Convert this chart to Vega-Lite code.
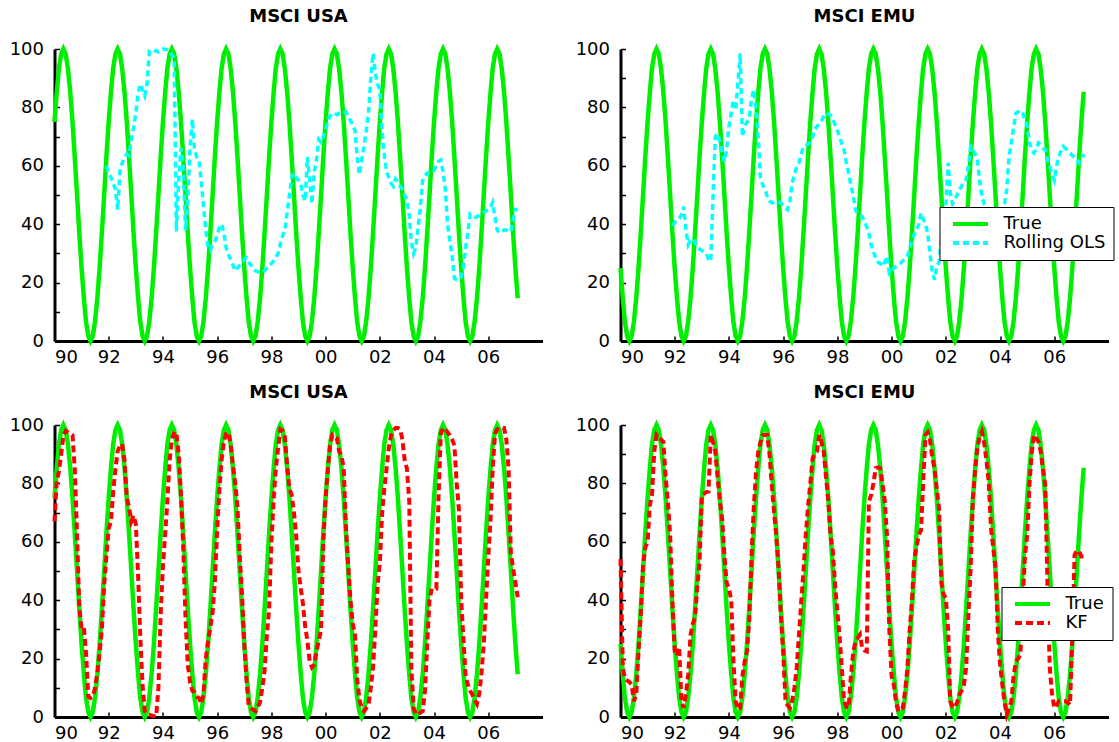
{
"$schema":"https://vega.github.io/schema/vega-lite/v6.json",
"padding":{"left":8.5,"top":8,"right":2,"bottom":2},
"bounds":"flush",
"columns":2,
"spacing":{"row":84,"column":78},
"config":{
 "font":"DejaVu Sans",
 "view":{"stroke":null},
 "axis":{"domainColor":"black","domainWidth":3,"tickColor":"black","tickWidth":1.5,"tickSize":-5,"labelColor":"black","labelFontSize":18,"labelFont":"DejaVu Sans","grid":false,"labelOverlap":false},
 "axisX":{"labelPadding":12},
 "axisY":{"labelPadding":16},
 "title":{"fontSize":18,"fontWeight":"bold","font":"DejaVu Sans","color":"black","offset":14},
 "line":{"strokeCap":"butt"},
 "legend":{"title":null,"orient":"none","symbolType":"M-1,0H9","symbolSize":49,"symbolStrokeWidth":4,"padding":8,"strokeColor":"black","fillColor":"white","labelFontSize":18,"labelFont":"DejaVu Sans","labelColor":"black","rowPadding":1,"labelOffset":38,"cornerRadius":0}
},
"resolve":{"scale":{"color":"independent","strokeDash":"independent"},"legend":{"color":"independent","strokeDash":"independent"}},
"data":{"values":[
{"d":"1990-01","tu":75,"te":25,"ku":67,"ke":54},
{"d":"1990-02","tu":85.36,"te":14.64,"ku":81,"ke":17},
{"d":"1990-03","tu":93.3,"te":6.7,"ku":84,"ke":13.3},
{"d":"1990-04","tu":98.3,"te":1.7,"ku":90,"ke":12.5},
{"d":"1990-05","tu":100,"te":0,"ku":96.5,"ke":12},
{"d":"1990-06","tu":98.3,"te":1.7,"ku":98,"ke":11},
{"d":"1990-07","tu":93.3,"te":6.7,"ku":97.5,"ke":5.4},
{"d":"1990-08","tu":85.36,"te":14.64,"ku":97,"ke":7.6},
{"d":"1990-09","tu":75,"te":25,"ku":96.5,"ke":22.5},
{"d":"1990-10","tu":62.94,"te":37.06,"ku":85,"ke":35},
{"d":"1990-11","tu":50,"te":50,"ku":62,"ke":52},
{"d":"1990-12","tu":37.06,"te":62.94,"ku":38,"ke":58},
{"d":"1991-01","tu":25,"te":75,"ku":30,"ke":60},
{"d":"1991-02","tu":14.64,"te":85.36,"ku":30.5,"ke":72.6},
{"d":"1991-03","tu":6.7,"te":93.3,"ku":22,"ke":76},
{"d":"1991-04","tu":1.7,"te":98.3,"ku":7,"ke":91},
{"d":"1991-05","tu":0,"te":100,"ku":6.5,"ke":96.6},
{"d":"1991-06","tu":1.7,"te":98.3,"ku":7,"ke":95.5},
{"d":"1991-07","tu":6.7,"te":93.3,"ku":10,"ke":95},
{"d":"1991-08","tu":14.64,"te":85.36,"ku":15,"ke":94.3},
{"d":"1991-09","tu":25,"te":75,"ku":22,"ke":82},
{"d":"1991-10","tu":37.06,"te":62.94,"ku":30,"ke":73.8},
{"d":"1991-11","tu":50,"te":50,"ku":45,"ke":62.4},
{"d":"1991-12","tu":62.94,"te":37.06,"ou":60,"oe":39.5,"ku":55,"ke":39.6},
{"d":"1992-01","tu":75,"te":25,"ou":57.5,"oe":40.5,"ku":64.5,"ke":22.5},
{"d":"1992-02","tu":85.36,"te":14.64,"ou":56,"oe":41.5,"ku":67,"ke":21},
{"d":"1992-03","tu":93.3,"te":6.7,"ou":54,"oe":42,"ku":77,"ke":24},
{"d":"1992-04","tu":98.3,"te":1.7,"ou":52,"oe":43,"ku":85,"ke":5.4},
{"d":"1992-05","tu":100,"te":0,"ou":45,"oe":46,"ku":91,"ke":3.1},
{"d":"1992-06","tu":98.3,"te":1.7,"ou":58,"oe":38,"ku":93,"ke":8},
{"d":"1992-07","tu":93.3,"te":6.7,"ou":61,"oe":33,"ku":93.5,"ke":14.5},
{"d":"1992-08","tu":85.36,"te":14.64,"ou":63,"oe":34.5,"ku":88,"ke":28},
{"d":"1992-09","tu":75,"te":25,"ou":64,"oe":35,"ku":75,"ke":32},
{"d":"1992-10","tu":62.94,"te":37.06,"ou":63.5,"oe":34,"ku":72,"ke":34},
{"d":"1992-11","tu":50,"te":50,"ou":69,"oe":32,"ku":67,"ke":45},
{"d":"1992-12","tu":37.06,"te":62.94,"ou":73,"oe":31.5,"ku":69,"ke":53},
{"d":"1993-01","tu":25,"te":75,"ou":78,"oe":31,"ku":66,"ke":76},
{"d":"1993-02","tu":14.64,"te":85.36,"ou":85,"oe":30.5,"ku":48,"ke":76.5},
{"d":"1993-03","tu":6.7,"te":93.3,"ou":88,"oe":30,"ku":28,"ke":77},
{"d":"1993-04","tu":1.7,"te":98.3,"ou":86,"oe":28,"ku":11,"ke":77.2},
{"d":"1993-05","tu":0,"te":100,"ou":84,"oe":27.3,"ku":2,"ke":96.6},
{"d":"1993-06","tu":1.7,"te":98.3,"ou":88,"oe":50,"ku":1,"ke":94},
{"d":"1993-07","tu":6.7,"te":93.3,"ou":99,"oe":70,"ku":0.8,"ke":91},
{"d":"1993-08","tu":14.64,"te":85.36,"ou":98.5,"oe":71,"ku":0.5,"ke":82},
{"d":"1993-09","tu":25,"te":75,"ou":99,"oe":68,"ku":0.3,"ke":74},
{"d":"1993-10","tu":37.06,"te":62.94,"ou":99.5,"oe":64.5,"ku":0.2,"ke":68},
{"d":"1993-11","tu":50,"te":50,"ou":99,"oe":61.5,"ku":10,"ke":55},
{"d":"1993-12","tu":62.94,"te":37.06,"ou":99.5,"oe":65.5,"ku":35,"ke":46},
{"d":"1994-01","tu":75,"te":25,"ou":100,"oe":73.5,"ku":52,"ke":44},
{"d":"1994-02","tu":85.36,"te":14.64,"ou":99.8,"oe":78,"ku":63,"ke":40},
{"d":"1994-03","tu":93.3,"te":6.7,"ou":99.8,"oe":82.5,"ku":74,"ke":20},
{"d":"1994-04","tu":98.3,"te":1.7,"ou":99.5,"oe":79,"ku":88,"ke":5.4},
{"d":"1994-05","tu":100,"te":0,"ou":98,"oe":88,"ku":95,"ke":2.5},
{"d":"1994-06","tu":98.3,"te":1.7,"ou":97,"oe":98.5,"ku":97.7,"ke":3.1},
{"d":"1994-07","tu":93.3,"te":6.7,"ou":37.5,"oe":70,"ku":97,"ke":14},
{"d":"1994-08","tu":85.36,"te":14.64,"ou":55,"oe":73.5,"ku":90,"ke":19},
{"d":"1994-09","tu":75,"te":25,"ou":66,"oe":75,"ku":76,"ke":22.5},
{"d":"1994-10","tu":62.94,"te":37.06,"ou":60,"oe":76,"ku":58,"ke":33},
{"d":"1994-11","tu":50,"te":50,"ou":38,"oe":83,"ku":34,"ke":55},
{"d":"1994-12","tu":37.06,"te":62.94,"ou":48,"oe":86,"ku":18,"ke":71.5},
{"d":"1995-01","tu":25,"te":75,"ou":66,"oe":80,"ku":12,"ke":84},
{"d":"1995-02","tu":14.64,"te":85.36,"ou":76,"oe":69,"ku":9,"ke":91},
{"d":"1995-03","tu":6.7,"te":93.3,"ou":66,"oe":56,"ku":8.5,"ke":94},
{"d":"1995-04","tu":1.7,"te":98.3,"ou":63,"oe":53.5,"ku":7,"ke":96.6},
{"d":"1995-05","tu":0,"te":100,"ou":62,"oe":52,"ku":6.5,"ke":96.6},
{"d":"1995-06","tu":1.7,"te":98.3,"ou":55,"oe":49.5,"ku":4.5,"ke":96.6},
{"d":"1995-07","tu":6.7,"te":93.3,"ou":46,"oe":48,"ku":8,"ke":90},
{"d":"1995-08","tu":14.64,"te":85.36,"ou":38,"oe":47.3,"ku":20,"ke":79.5},
{"d":"1995-09","tu":25,"te":75,"ou":32,"oe":47.5,"ku":26,"ke":70},
{"d":"1995-10","tu":37.06,"te":62.94,"ou":31,"oe":47.8,"ku":30.5,"ke":62},
{"d":"1995-11","tu":50,"te":50,"ou":33,"oe":47.5,"ku":36,"ke":51},
{"d":"1995-12","tu":62.94,"te":37.06,"ou":34,"oe":47.3,"ku":46,"ke":35},
{"d":"1996-01","tu":75,"te":25,"ou":36,"oe":46.5,"ku":64,"ke":22.5},
{"d":"1996-02","tu":85.36,"te":14.64,"ou":39,"oe":45.5,"ku":78,"ke":6},
{"d":"1996-03","tu":93.3,"te":6.7,"ou":40,"oe":45,"ku":88,"ke":4},
{"d":"1996-04","tu":98.3,"te":1.7,"ou":37,"oe":48,"ku":94.3,"ke":3.1},
{"d":"1996-05","tu":100,"te":0,"ou":32,"oe":54,"ku":97,"ke":5.4},
{"d":"1996-06","tu":98.3,"te":1.7,"ou":29.5,"oe":57,"ku":97.5,"ke":10},
{"d":"1996-07","tu":93.3,"te":6.7,"ou":28,"oe":59.5,"ku":93.5,"ke":16.8},
{"d":"1996-08","tu":85.36,"te":14.64,"ou":26,"oe":61,"ku":86,"ke":28},
{"d":"1996-09","tu":75,"te":25,"ou":24,"oe":64,"ku":80,"ke":39.6},
{"d":"1996-10","tu":62.94,"te":37.06,"ou":25,"oe":66.6,"ku":72,"ke":50},
{"d":"1996-11","tu":50,"te":50,"ou":26,"oe":67,"ku":55,"ke":62.4},
{"d":"1996-12","tu":37.06,"te":62.94,"ou":26.7,"oe":67.5,"ku":42,"ke":72},
{"d":"1997-01","tu":25,"te":75,"ou":28,"oe":68,"ku":25,"ke":80},
{"d":"1997-02","tu":14.64,"te":85.36,"ou":28.5,"oe":70,"ku":12,"ke":88.6},
{"d":"1997-03","tu":6.7,"te":93.3,"ou":27,"oe":72.4,"ku":4.2,"ke":90},
{"d":"1997-04","tu":1.7,"te":98.3,"ou":26,"oe":73.5,"ku":3,"ke":91},
{"d":"1997-05","tu":0,"te":100,"ou":25,"oe":74.5,"ku":2.5,"ke":96.6},
{"d":"1997-06","tu":1.7,"te":98.3,"ou":24,"oe":75.5,"ku":2,"ke":94},
{"d":"1997-07","tu":6.7,"te":93.3,"ou":23.8,"oe":77,"ku":3.5,"ke":91},
{"d":"1997-08","tu":14.64,"te":85.36,"ou":23.3,"oe":78,"ku":5,"ke":82},
{"d":"1997-09","tu":25,"te":75,"ou":23.5,"oe":77.8,"ku":10,"ke":73.8},
{"d":"1997-10","tu":37.06,"te":62.94,"ou":24.2,"oe":77.3,"ku":16,"ke":62},
{"d":"1997-11","tu":50,"te":50,"ou":24.8,"oe":76,"ku":28,"ke":56.7},
{"d":"1997-12","tu":62.94,"te":37.06,"ou":25.5,"oe":74,"ku":37,"ke":45},
{"d":"1998-01","tu":75,"te":25,"ou":26.5,"oe":72,"ku":60,"ke":36},
{"d":"1998-02","tu":85.36,"te":14.64,"ou":27.5,"oe":70,"ku":75,"ke":27},
{"d":"1998-03","tu":93.3,"te":6.7,"ou":28.5,"oe":67.5,"ku":85,"ke":17},
{"d":"1998-04","tu":98.3,"te":1.7,"ou":30,"oe":65.5,"ku":92,"ke":5.4},
{"d":"1998-05","tu":100,"te":0,"ou":33,"oe":61,"ku":98.5,"ke":3.5},
{"d":"1998-06","tu":98.3,"te":1.7,"ou":36,"oe":57.5,"ku":98,"ke":3.1},
{"d":"1998-07","tu":93.3,"te":6.7,"ou":38,"oe":53.5,"ku":96,"ke":14},
{"d":"1998-08","tu":85.36,"te":14.64,"ou":44,"oe":50,"ku":86,"ke":22},
{"d":"1998-09","tu":75,"te":25,"ou":50,"oe":45,"ku":78,"ke":25.9},
{"d":"1998-10","tu":62.94,"te":37.06,"ou":56,"oe":43.5,"ku":76,"ke":27},
{"d":"1998-11","tu":50,"te":50,"ou":57.5,"oe":43,"ku":70,"ke":28.2},
{"d":"1998-12","tu":37.06,"te":62.94,"ou":56,"oe":42.6,"ku":62,"ke":23.6},
{"d":"1999-01","tu":25,"te":75,"ou":55,"oe":41,"ku":50,"ke":22.8},
{"d":"1999-02","tu":14.64,"te":85.36,"ou":54,"oe":39,"ku":44,"ke":22.5},
{"d":"1999-03","tu":6.7,"te":93.3,"ou":50,"oe":37,"ku":39,"ke":73.8},
{"d":"1999-04","tu":1.7,"te":98.3,"ou":48,"oe":33,"ku":31,"ke":76},
{"d":"1999-05","tu":0,"te":100,"ou":63,"oe":30.5,"ku":26,"ke":80},
{"d":"1999-06","tu":1.7,"te":98.3,"ou":55,"oe":28.5,"ku":19,"ke":85.2},
{"d":"1999-07","tu":6.7,"te":93.3,"ou":47,"oe":27,"ku":17,"ke":85.5},
{"d":"1999-08","tu":14.64,"te":85.36,"ou":58,"oe":26.6,"ku":18,"ke":85.2},
{"d":"1999-09","tu":25,"te":75,"ou":62,"oe":25.5,"ku":22.5,"ke":80},
{"d":"1999-10","tu":37.06,"te":62.94,"ou":69,"oe":27,"ku":26,"ke":73.8},
{"d":"1999-11","tu":50,"te":50,"ou":68,"oe":29,"ku":30,"ke":62},
{"d":"1999-12","tu":62.94,"te":37.06,"ou":70,"oe":23.2,"ku":60,"ke":30},
{"d":"2000-01","tu":75,"te":25,"ou":72,"oe":24,"ku":75,"ke":14},
{"d":"2000-02","tu":85.36,"te":14.64,"ou":75.5,"oe":25,"ku":85,"ke":11},
{"d":"2000-03","tu":93.3,"te":6.7,"ou":77,"oe":25.5,"ku":93,"ke":5},
{"d":"2000-04","tu":98.3,"te":1.7,"ou":78,"oe":26,"ku":96.6,"ke":2},
{"d":"2000-05","tu":100,"te":0,"ou":78,"oe":26.6,"ku":96,"ke":2.5},
{"d":"2000-06","tu":98.3,"te":1.7,"ou":77.5,"oe":27.5,"ku":95.4,"ke":3.1},
{"d":"2000-07","tu":93.3,"te":6.7,"ou":78,"oe":28,"ku":91,"ke":9},
{"d":"2000-08","tu":85.36,"te":14.64,"ou":78,"oe":29,"ku":89.7,"ke":16.8},
{"d":"2000-09","tu":75,"te":25,"ou":78,"oe":31.5,"ku":85,"ke":30},
{"d":"2000-10","tu":62.94,"te":37.06,"ou":78.5,"oe":34.6,"ku":65,"ke":39.6},
{"d":"2000-11","tu":50,"te":50,"ou":77,"oe":36.5,"ku":52,"ke":54},
{"d":"2000-12","tu":37.06,"te":62.94,"ou":75.5,"oe":38,"ku":40,"ke":58},
{"d":"2001-01","tu":25,"te":75,"ou":74,"oe":40,"ku":32,"ke":62.4},
{"d":"2001-02","tu":14.64,"te":85.36,"ou":72,"oe":43.8,"ku":28,"ke":64},
{"d":"2001-03","tu":6.7,"te":93.3,"ou":63,"oe":42,"ku":13,"ke":80},
{"d":"2001-04","tu":1.7,"te":98.3,"ou":57,"oe":40,"ku":6,"ke":96.6},
{"d":"2001-05","tu":0,"te":100,"ou":62,"oe":37,"ku":3,"ke":97.5},
{"d":"2001-06","tu":1.7,"te":98.3,"ou":66.5,"oe":30,"ku":2,"ke":95},
{"d":"2001-07","tu":6.7,"te":93.3,"ou":72,"oe":24,"ku":3,"ke":89},
{"d":"2001-08","tu":14.64,"te":85.36,"ou":78,"oe":21,"ku":4.2,"ke":85.2},
{"d":"2001-09","tu":25,"te":75,"ou":90,"oe":25.5,"ku":10,"ke":78},
{"d":"2001-10","tu":37.06,"te":62.94,"ou":98.5,"oe":27,"ku":17,"ke":71.5},
{"d":"2001-11","tu":50,"te":50,"ou":92,"oe":35,"ku":30,"ke":46},
{"d":"2001-12","tu":62.94,"te":37.06,"ou":88,"oe":42,"ku":45,"ke":42},
{"d":"2002-01","tu":75,"te":25,"ou":86,"oe":46,"ku":53,"ke":40.7},
{"d":"2002-02","tu":85.36,"te":14.64,"ou":72,"oe":61,"ku":70,"ke":30},
{"d":"2002-03","tu":93.3,"te":6.7,"ou":64,"oe":50.6,"ku":78,"ke":5.4},
{"d":"2002-04","tu":98.3,"te":1.7,"ou":58,"oe":47,"ku":85,"ke":3.5},
{"d":"2002-05","tu":100,"te":0,"ou":56,"oe":48.3,"ku":92,"ke":3.1},
{"d":"2002-06","tu":98.3,"te":1.7,"ou":54,"oe":50,"ku":96.5,"ke":5},
{"d":"2002-07","tu":93.3,"te":6.7,"ou":53,"oe":51.8,"ku":98,"ke":7.6},
{"d":"2002-08","tu":85.36,"te":14.64,"ou":55.5,"oe":53,"ku":99,"ke":9},
{"d":"2002-09","tu":75,"te":25,"ou":54.5,"oe":54.5,"ku":99,"ke":11},
{"d":"2002-10","tu":62.94,"te":37.06,"ou":53,"oe":55.2,"ku":98.5,"ke":16.8},
{"d":"2002-11","tu":50,"te":50,"ou":52,"oe":60,"ku":95,"ke":35},
{"d":"2002-12","tu":37.06,"te":62.94,"ou":50,"oe":66.6,"ku":88,"ke":51},
{"d":"2003-01","tu":25,"te":75,"ou":48.5,"oe":65.5,"ku":85,"ke":75},
{"d":"2003-02","tu":14.64,"te":85.36,"ou":43,"oe":64,"ku":74,"ke":85.2},
{"d":"2003-03","tu":6.7,"te":93.3,"ou":34,"oe":62,"ku":17,"ke":92},
{"d":"2003-04","tu":1.7,"te":98.3,"ou":30,"oe":55,"ku":3,"ke":96},
{"d":"2003-05","tu":0,"te":100,"ou":32,"oe":49.5,"ku":1,"ke":97.7},
{"d":"2003-06","tu":1.7,"te":98.3,"ou":39,"oe":47,"ku":0.8,"ke":94},
{"d":"2003-07","tu":6.7,"te":93.3,"ou":46,"oe":46,"ku":1.5,"ke":88},
{"d":"2003-08","tu":14.64,"te":85.36,"ou":55,"oe":45,"ku":2,"ke":80.6},
{"d":"2003-09","tu":25,"te":75,"ou":56.5,"oe":44,"ku":9,"ke":64.6},
{"d":"2003-10","tu":37.06,"te":62.94,"ou":57.5,"oe":43,"ku":25,"ke":58},
{"d":"2003-11","tu":50,"te":50,"ou":57.5,"oe":42,"ku":40,"ke":51},
{"d":"2003-12","tu":62.94,"te":37.06,"ou":57.5,"oe":43,"ku":44,"ke":30},
{"d":"2004-01","tu":75,"te":25,"ou":58.5,"oe":44,"ku":44,"ke":18},
{"d":"2004-02","tu":85.36,"te":14.64,"ou":60,"oe":45.5,"ku":44,"ke":11},
{"d":"2004-03","tu":93.3,"te":6.7,"ou":61.5,"oe":47,"ku":75,"ke":5},
{"d":"2004-04","tu":98.3,"te":1.7,"ou":62,"oe":52,"ku":97,"ke":0.8},
{"d":"2004-05","tu":100,"te":0,"ou":58,"oe":63,"ku":99,"ke":3},
{"d":"2004-06","tu":98.3,"te":1.7,"ou":52,"oe":68,"ku":98.5,"ke":5.4},
{"d":"2004-07","tu":93.3,"te":6.7,"ou":40,"oe":73,"ku":97.5,"ke":14},
{"d":"2004-08","tu":85.36,"te":14.64,"ou":34,"oe":78,"ku":96.5,"ke":19},
{"d":"2004-09","tu":75,"te":25,"ou":29,"oe":78.5,"ku":95,"ke":20},
{"d":"2004-10","tu":62.94,"te":37.06,"ou":21.5,"oe":79,"ku":93,"ke":21.3},
{"d":"2004-11","tu":50,"te":50,"ou":21,"oe":78,"ku":80,"ke":39.6},
{"d":"2004-12","tu":37.06,"te":62.94,"ou":21,"oe":76,"ku":71,"ke":55},
{"d":"2005-01","tu":25,"te":75,"ou":22,"oe":73.5,"ku":40,"ke":62.4},
{"d":"2005-02","tu":14.64,"te":85.36,"ou":25.5,"oe":68,"ku":26,"ke":80},
{"d":"2005-03","tu":6.7,"te":93.3,"ou":32,"oe":65.5,"ku":14,"ke":90},
{"d":"2005-04","tu":1.7,"te":98.3,"ou":37,"oe":64.4,"ku":11,"ke":96.6},
{"d":"2005-05","tu":0,"te":100,"ou":43.5,"oe":65.5,"ku":9,"ke":95.5},
{"d":"2005-06","tu":1.7,"te":98.3,"ou":43,"oe":67.8,"ku":7.6,"ke":94.3},
{"d":"2005-07","tu":6.7,"te":93.3,"ou":42.5,"oe":67,"ku":6,"ke":91},
{"d":"2005-08","tu":14.64,"te":85.36,"ou":42.5,"oe":66,"ku":4.5,"ke":85},
{"d":"2005-09","tu":25,"te":75,"ou":43,"oe":65.5,"ku":8,"ke":79.5},
{"d":"2005-10","tu":37.06,"te":62.94,"ou":43.5,"oe":62,"ku":15,"ke":45},
{"d":"2005-11","tu":50,"te":50,"ou":44,"oe":59.8,"ku":25,"ke":16.8},
{"d":"2005-12","tu":62.94,"te":37.06,"ou":44.5,"oe":57,"ku":40,"ke":8},
{"d":"2006-01","tu":75,"te":25,"ou":45,"oe":55,"ku":55,"ke":3.1},
{"d":"2006-02","tu":85.36,"te":14.64,"ou":46,"oe":60,"ku":68,"ke":4},
{"d":"2006-03","tu":93.3,"te":6.7,"ou":47.5,"oe":63,"ku":85,"ke":5.4},
{"d":"2006-04","tu":98.3,"te":1.7,"ou":42.5,"oe":65,"ku":97,"ke":5.4},
{"d":"2006-05","tu":100,"te":0,"ou":38,"oe":66.6,"ku":98.5,"ke":5.4},
{"d":"2006-06","tu":98.3,"te":1.7,"ou":37,"oe":66,"ku":99,"ke":5.4},
{"d":"2006-07","tu":93.3,"te":6.7,"ou":37.5,"oe":65,"ku":99,"ke":5},
{"d":"2006-08","tu":85.36,"te":14.64,"ou":38,"oe":64.4,"ku":99,"ke":4.2},
{"d":"2006-09","tu":75,"te":25,"ou":38,"oe":63.5,"ku":95,"ke":28.2},
{"d":"2006-10","tu":62.94,"te":37.06,"ou":37.5,"oe":63,"ku":85,"ke":55.5},
{"d":"2006-11","tu":50,"te":50,"ou":37.5,"oe":62,"ku":56,"ke":57},
{"d":"2006-12","tu":37.06,"te":62.94,"ou":41.5,"oe":61,"ku":51,"ke":56.7},
{"d":"2007-01","tu":25,"te":75,"ou":45,"oe":62,"ku":46,"ke":55},
{"d":"2007-02","tu":14.64,"te":85.36,"ou":45,"oe":64,"ku":41,"ke":55}
]},
"concat":[
{
 "title":"MSCI USA","width":488,"height":292,
 "encoding":{
  "x":{"field":"d","type":"temporal","title":null,"scale":{"type":"utc","nice":false,"domain":[{"year":1990,"month":1,"date":1,"utc":true},{"year":2008,"month":1,"date":1,"utc":true}]},"axis":{"format":"%y","labelFlush":true,"values":[{"year":1990,"utc":true},{"year":1992,"utc":true},{"year":1994,"utc":true},{"year":1996,"utc":true},{"year":1998,"utc":true},{"year":2000,"utc":true},{"year":2002,"utc":true},{"year":2004,"utc":true},{"year":2006,"utc":true}]}},
  "y":{"field":"v","type":"quantitative","title":null,"scale":{"domain":[0,100],"nice":false},"axis":{"values":[0,10,20,30,40,50,60,70,80,90,100],"labelExpr":"datum.value % 20 == 0 ? datum.label : ''"}},
  "color":{"field":"s","type":"nominal","scale":{"domain":["tu","ou"],"range":["#00ee00","#00ffff"]},"legend":null},
  "strokeDash":{"field":"s","type":"nominal","scale":{"domain":["tu","ou"],"range":[[1,0],[6,4]]},"legend":null}
 },
 "layer":[
  {"transform":[{"fold":["tu"],"as":["s","v"]}],"mark":{"type":"line","strokeWidth":4.5}},
  {"transform":[{"fold":["ou"],"as":["s","v"]}],"mark":{"type":"line","strokeWidth":3.5}}
 ]
},
{
 "title":"MSCI EMU","width":488,"height":292,
 "encoding":{
  "x":{"field":"d","type":"temporal","title":null,"scale":{"type":"utc","nice":false,"domain":[{"year":1990,"month":1,"date":1,"utc":true},{"year":2008,"month":1,"date":1,"utc":true}]},"axis":{"format":"%y","labelFlush":true,"values":[{"year":1990,"utc":true},{"year":1992,"utc":true},{"year":1994,"utc":true},{"year":1996,"utc":true},{"year":1998,"utc":true},{"year":2000,"utc":true},{"year":2002,"utc":true},{"year":2004,"utc":true},{"year":2006,"utc":true}]}},
  "y":{"field":"v","type":"quantitative","title":null,"scale":{"domain":[0,100],"nice":false},"axis":{"values":[0,10,20,30,40,50,60,70,80,90,100],"labelExpr":"datum.value % 20 == 0 ? datum.label : ''"}},
  "color":{"field":"s","type":"nominal","scale":{"domain":["te","oe"],"range":["#00ee00","#00ffff"]},"legend":{"legendX":319,"legendY":158,"labelExpr":"datum.value == 'te' ? 'True' : 'Rolling OLS'"}},
  "strokeDash":{"field":"s","type":"nominal","scale":{"domain":["te","oe"],"range":[[1,0],[6,4]]},"legend":{"legendX":319,"legendY":158,"labelExpr":"datum.value == 'te' ? 'True' : 'Rolling OLS'"}}
 },
 "layer":[
  {"transform":[{"fold":["te"],"as":["s","v"]}],"mark":{"type":"line","strokeWidth":4.5}},
  {"transform":[{"fold":["oe"],"as":["s","v"]}],"mark":{"type":"line","strokeWidth":3.5}}
 ]
},
{
 "title":"MSCI USA","width":488,"height":292,
 "encoding":{
  "x":{"field":"d","type":"temporal","title":null,"scale":{"type":"utc","nice":false,"domain":[{"year":1990,"month":1,"date":1,"utc":true},{"year":2008,"month":1,"date":1,"utc":true}]},"axis":{"format":"%y","labelFlush":true,"values":[{"year":1990,"utc":true},{"year":1992,"utc":true},{"year":1994,"utc":true},{"year":1996,"utc":true},{"year":1998,"utc":true},{"year":2000,"utc":true},{"year":2002,"utc":true},{"year":2004,"utc":true},{"year":2006,"utc":true}]}},
  "y":{"field":"v","type":"quantitative","title":null,"scale":{"domain":[0,100],"nice":false},"axis":{"values":[0,10,20,30,40,50,60,70,80,90,100],"labelExpr":"datum.value % 20 == 0 ? datum.label : ''"}},
  "color":{"field":"s","type":"nominal","scale":{"domain":["tu","ku"],"range":["#00ee00","#ff0000"]},"legend":null},
  "strokeDash":{"field":"s","type":"nominal","scale":{"domain":["tu","ku"],"range":[[1,0],[7,4]]},"legend":null}
 },
 "layer":[
  {"transform":[{"fold":["tu"],"as":["s","v"]}],"mark":{"type":"line","strokeWidth":4.5}},
  {"transform":[{"fold":["ku"],"as":["s","v"]}],"mark":{"type":"line","strokeWidth":4}}
 ]
},
{
 "title":"MSCI EMU","width":488,"height":292,
 "encoding":{
  "x":{"field":"d","type":"temporal","title":null,"scale":{"type":"utc","nice":false,"domain":[{"year":1990,"month":1,"date":1,"utc":true},{"year":2008,"month":1,"date":1,"utc":true}]},"axis":{"format":"%y","labelFlush":true,"values":[{"year":1990,"utc":true},{"year":1992,"utc":true},{"year":1994,"utc":true},{"year":1996,"utc":true},{"year":1998,"utc":true},{"year":2000,"utc":true},{"year":2002,"utc":true},{"year":2004,"utc":true},{"year":2006,"utc":true}]}},
  "y":{"field":"v","type":"quantitative","title":null,"scale":{"domain":[0,100],"nice":false},"axis":{"values":[0,10,20,30,40,50,60,70,80,90,100],"labelExpr":"datum.value % 20 == 0 ? datum.label : ''"}},
  "color":{"field":"s","type":"nominal","scale":{"domain":["te","ke"],"range":["#00ee00","#ff0000"]},"legend":{"legendX":381,"legendY":162,"labelExpr":"datum.value == 'te' ? 'True' : 'KF'"}},
  "strokeDash":{"field":"s","type":"nominal","scale":{"domain":["te","ke"],"range":[[1,0],[7,4]]},"legend":{"legendX":381,"legendY":162,"labelExpr":"datum.value == 'te' ? 'True' : 'KF'"}}
 },
 "layer":[
  {"transform":[{"fold":["te"],"as":["s","v"]}],"mark":{"type":"line","strokeWidth":4.5}},
  {"transform":[{"fold":["ke"],"as":["s","v"]}],"mark":{"type":"line","strokeWidth":4}}
 ]
}
]
}
